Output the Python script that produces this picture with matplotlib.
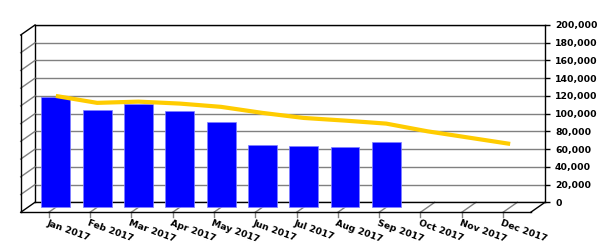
import matplotlib
matplotlib.use("Agg")
import matplotlib.pyplot as plt
import matplotlib.transforms as mtransforms
from matplotlib.lines import Line2D
from matplotlib.ticker import FuncFormatter, MultipleLocator

# Chart data
months = ["Jan 2017", "Feb 2017", "Mar 2017", "Apr 2017", "May 2017", "Jun 2017",
          "Jul 2017", "Aug 2017", "Sep 2017", "Oct 2017", "Nov 2017", "Dec 2017"]
bar_values = [124900, 110200, 116600, 109100, 96700, 70700, 69600, 68500, 74100]
line_values = [125600, 117800, 119200, 117000, 113300, 106500,
               100800, 97800, 94400, 85700, 78600, 71500]

# Pseudo-3D depth of the chart floor, in pixels
depth_dx = -14.3
depth_dy = -10.0
grid_gray = "#808080"

fig = plt.figure(figsize=(6, 2.5), dpi=100)
fig.patch.set_facecolor("white")
ax = fig.add_axes([35 / 600, (250 - 202.3) / 250, 510 / 600, 177.3 / 250])
ax.patch.set_visible(False)
x0, x1 = -0.678, 11.67
ax.set_xlim(x0, x1)
ax.set_ylim(0, 200000)

# Back wall: spines + horizontal grid
for s in ax.spines.values():
    s.set_color("black")
    s.set_linewidth(1)
ax.yaxis.set_major_locator(MultipleLocator(20000))
ax.yaxis.grid(True, color=grid_gray, lw=1)
ax.set_axisbelow(True)
ax.yaxis.tick_right()
ax.yaxis.set_major_formatter(FuncFormatter(lambda v, p: f"{int(v):,}"))
ax.tick_params(axis="y", length=3.6, width=1, pad=3.6, labelsize=6.7)
for lbl in ax.get_yticklabels():
    lbl.set_fontweight("bold")
ax.set_xticks([])

dpi = fig.dpi
mid = ax.transData + mtransforms.ScaledTranslation(depth_dx / 2 / dpi, depth_dy / 2 / dpi,
                                                   fig.dpi_scale_trans)

def back_px(x, y):
    return ax.transData.transform((x, y))

def front_px(x, y):
    bx, by = back_px(x, y)
    return bx + depth_dx, by + depth_dy

def px_line(p, q, color, lw=1, z=1):
    fig.add_artist(Line2D([p[0], q[0]], [p[1], q[1]], color=color, lw=lw,
                          transform=mtransforms.IdentityTransform(), zorder=z))

# Left wall
for v in range(0, 200001, 20000):
    c = "black" if v in (0, 200000) else grid_gray
    px_line(back_px(x0, v), front_px(x0, v), c)
px_line(front_px(x0, 0), front_px(x1, 0), "black")
px_line(front_px(x0, 0), front_px(x0, 200000), "black")

# Floor right edge
px_line(back_px(x1, 0), front_px(x1, 0), "black")

# Category ticks on the floor (behind the bars) and labels
for i, m in enumerate(months):
    f = front_px(i, 0)
    px_line(back_px(i, 0), f, grid_gray, z=-1)
    px_line(f, (f[0], f[1] - 5), grid_gray, z=-1)
    lab = ax.transData + mtransforms.ScaledTranslation((depth_dx - 0.5) / dpi,
                                                       (depth_dy - 6) / dpi,
                                                       fig.dpi_scale_trans)
    ax.text(i, 0, m, transform=lab, ha="left", va="top", rotation=-20,
            rotation_mode="anchor", fontsize=6.7, fontweight="bold", clip_on=False)

# Bars and line, drawn in the middle of the floor depth
ax.bar(range(len(bar_values)), bar_values, width=0.7, color="#0000ff",
       edgecolor="#8080ff", lw=0.5, transform=mid, clip_on=False, zorder=3)
ax.plot(range(len(line_values)), line_values, color="#ffcc00", lw=3,
        transform=mid, clip_on=False, zorder=4, solid_capstyle="butt")

fig.savefig("out.png", dpi=100, facecolor="white")
